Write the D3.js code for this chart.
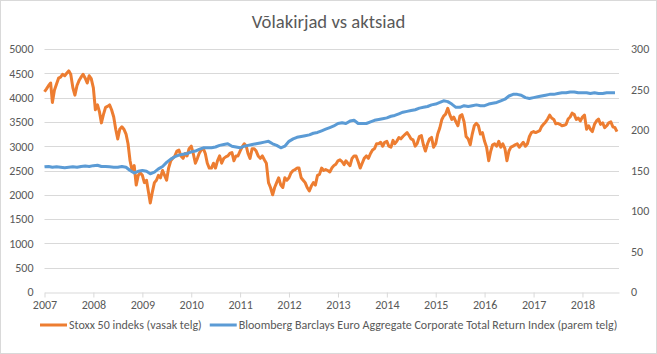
<!DOCTYPE html>
<html>
<head>
<meta charset="utf-8">
<script src="https://cdn.jsdelivr.net/npm/d3@7"></script>
<style>
  body { margin: 0; background: #fff; }
  svg text { font-family: Carlito, Calibri, Lato, sans-serif; fill: #595959; }
</style>
</head>
<body>
<div id="chart-area"></div>
<script>
// Stoxx 50, two readings per month (1st and 16th), Jan 2007 - Sep 2018
const stoxx2007 = [4120, 4180, 4250, 4300, 3900, 4150, 4280, 4400, 4420, 4480, 4450, 4500, 4550, 4480, 4200, 4050, 4250, 4350, 4420, 4480, 4400, 4300, 4450, 4390];
const stoxx2008 = [4200, 3750, 3850, 3700, 3480, 3650, 3800, 3820, 3850, 3750, 3600, 3350, 3150, 3350, 3400, 3350, 3250, 3050, 2700, 2500, 2600, 2200, 2400, 2450];
const stoxx2009 = [2400, 2250, 2300, 2050, 1830, 2050, 2250, 2300, 2400, 2350, 2500, 2400, 2300, 2550, 2700, 2750, 2800, 2900, 2920, 2800, 2750, 2850, 2800, 2950];
const stoxx2010 = [3000, 2850, 2650, 2750, 2850, 2920, 2950, 2850, 2650, 2550, 2550, 2650, 2550, 2700, 2800, 2650, 2750, 2780, 2800, 2850, 2870, 2700, 2800, 2800];
const stoxx2011 = [2900, 2980, 3050, 3000, 2850, 2750, 2950, 2950, 2900, 2800, 2750, 2800, 2720, 2650, 2250, 2150, 2000, 2150, 2250, 2350, 2200, 2150, 2350, 2300];
const stoxx2012 = [2350, 2450, 2500, 2520, 2550, 2550, 2350, 2300, 2250, 2150, 2080, 2180, 2250, 2200, 2400, 2420, 2550, 2500, 2520, 2500, 2470, 2550, 2600, 2630];
const stoxx2013 = [2700, 2720, 2680, 2620, 2700, 2650, 2600, 2750, 2800, 2800, 2680, 2550, 2650, 2750, 2800, 2750, 2850, 2920, 2950, 3050, 3050, 3080, 3000, 3080];
const stoxx2014 = [3100, 3000, 2980, 3120, 3050, 3100, 3180, 3150, 3200, 3240, 3280, 3220, 3150, 3130, 3000, 3060, 3200, 3220, 3030, 2900, 3050, 3150, 3180, 2980];
const stoxx2015 = [3050, 3250, 3380, 3550, 3620, 3660, 3780, 3650, 3550, 3600, 3500, 3420, 3620, 3650, 3500, 3200, 3150, 3030, 3250, 3420, 3470, 3420, 3250, 3280];
const stoxx2016 = [3100, 2980, 2700, 2900, 3030, 3050, 3000, 3100, 2980, 3050, 2950, 2700, 2900, 2980, 3000, 3030, 3050, 2980, 3030, 3080, 3000, 3050, 3200, 3280];
const stoxx2017 = [3300, 3280, 3300, 3320, 3400, 3450, 3500, 3560, 3640, 3580, 3550, 3460, 3470, 3450, 3420, 3430, 3450, 3560, 3600, 3680, 3650, 3550, 3580, 3520];
const stoxx2018 = [3600, 3640, 3350, 3420, 3350, 3300, 3450, 3520, 3560, 3450, 3480, 3380, 3420, 3480, 3500, 3400, 3380, 3300];

// Bloomberg Barclays Euro Aggregate Corporate TR index, monthly, Jan 2007 - Sep 2018
const bond2007 = [154.5, 155, 154, 154.5, 154, 153.5, 154, 154.5, 154, 155, 155.5, 155];
const bond2008 = [156, 156.5, 155, 155, 154.5, 154, 154, 155, 154, 150, 147, 149];
const bond2009 = [150, 149, 146, 148, 152, 155, 160, 164, 167, 169, 170, 171];
const bond2010 = [173, 174, 176, 178, 178, 178, 179, 181, 182, 183, 180, 179];
const bond2011 = [178, 180, 181, 182, 183, 184, 185, 186, 183, 181, 178, 180];
const bond2012 = [186, 189, 191, 192, 193, 194, 196, 197, 199, 201, 203, 205];
const bond2013 = [208, 209, 208, 211, 212, 208, 208, 208, 210, 212, 213, 214];
const bond2014 = [215, 217, 218, 220, 222, 223, 224, 225, 227, 228, 229, 231];
const bond2015 = [232, 234, 236, 235, 232, 228, 228, 230, 229, 230, 231, 230];
const bond2016 = [230, 232, 233, 234, 236, 238, 242, 244, 244, 243, 240, 239];
const bond2017 = [240, 241, 242, 243, 244, 244, 245, 246, 246, 247, 247, 246];
const bond2018 = [246, 246, 245, 246, 245, 245, 246, 246, 246];

const years = ["2007", "2008", "2009", "2010", "2011", "2012", "2013", "2014", "2015", "2016", "2017", "2018"];
const leftTicks = [0, 500, 1000, 1500, 2000, 2500, 3000, 3500, 4000, 4500, 5000];
const rightTicks = [0, 50, 100, 150, 200, 250, 300];
const titleText = "Võlakirjad vs aktsiad";
const stoxxName = "Stoxx 50 indeks (vasak telg)";
const bondName = "Bloomberg Barclays Euro Aggregate Corporate Total Return Index (parem telg)";

const stoxxValues = [].concat(stoxx2007, stoxx2008, stoxx2009, stoxx2010, stoxx2011, stoxx2012,
  stoxx2013, stoxx2014, stoxx2015, stoxx2016, stoxx2017, stoxx2018);
const bondValues = [].concat(bond2007, bond2008, bond2009, bond2010, bond2011, bond2012,
  bond2013, bond2014, bond2015, bond2016, bond2017, bond2018);

const stoxxData = stoxxValues.map((v, i) => ({ date: new Date(2007, Math.floor(i / 2), i % 2 ? 16 : 1), value: v }));
const bondData = bondValues.map((v, i) => ({ date: new Date(2007, i, 1), value: v }));

const W = 657, H = 354;
let margin = { top: 49, right: 38, bottom: 62, left: 44.5 },
  width = W - margin.left - margin.right,
  height = H - margin.top - margin.bottom;

const orange = "#ed7d31", blue = "#5b9bd5", grid = "#d9d9d9";

let svg = d3.select("#chart-area")
  .append("svg")
  .attr("width", W)
  .attr("height", H);

svg.append("rect")
  .attr("x", 0.5).attr("y", 0.5)
  .attr("width", W - 1).attr("height", H - 1)
  .attr("fill", "#fff").attr("stroke", grid);

svg.append("text")
  .attr("x", W / 2)
  .attr("y", 28)
  .attr("text-anchor", "middle")
  .style("font-size", "18.7px")
  .style("font-weight", 300)
  .text(titleText);

let g = svg.append("g")
  .attr("transform", "translate(" + margin.left + "," + margin.top + ")");

// SCALES
let x = d3.scaleTime()
  .domain([new Date(2007, 0, 1), new Date(2018, 9, 1)])
  .range([0, width]);
let yLeft = d3.scaleLinear().domain([0, 5000]).range([height, 0]);
let yRight = d3.scaleLinear().domain([0, 300]).range([height, 0]);

// gridlines
g.selectAll(".grid")
  .data(leftTicks.slice(1))
  .enter()
  .append("line")
  .attr("class", "grid")
  .attr("x1", 0).attr("x2", width)
  .attr("y1", d => Math.round(yLeft(d)) + 0.5)
  .attr("y2", d => Math.round(yLeft(d)) + 0.5)
  .attr("stroke", grid);

// AXES
let xAxis = d3.axisBottom(x)
  .tickValues(years.map(y => new Date(+y, 0, 1)))
  .tickFormat(d3.timeFormat("%Y"))
  .tickSize(5)
  .tickSizeOuter(0);
let leftAxis = d3.axisLeft(yLeft).tickValues(leftTicks).tickFormat(d3.format("d")).tickSize(0).tickPadding(11);
let rightAxis = d3.axisRight(yRight).tickValues(rightTicks).tickFormat(d3.format("d")).tickSize(0).tickPadding(12);

let xg = g.append("g")
  .attr("transform", "translate(0," + (Math.round(height) + 0.5) + ")")
  .call(xAxis);
xg.select(".domain").attr("stroke", grid);
xg.selectAll(".tick line").attr("stroke", grid);

let lg = g.append("g").call(leftAxis);
let rg = g.append("g").attr("transform", "translate(" + width + ",0)").call(rightAxis);
[lg, rg].forEach(a => a.select(".domain").remove());

svg.selectAll(".tick text")
  .style("font-size", "12px")
  .attr("fill", "#595959");

// LINES
let stoxxLine = d3.line().x(d => x(d.date)).y(d => yLeft(d.value));
let bondLine = d3.line().x(d => x(d.date)).y(d => yRight(d.value));

g.append("path")
  .datum(stoxxData)
  .attr("fill", "none")
  .attr("stroke", orange)
  .attr("stroke-width", 3)
  .attr("stroke-linejoin", "round")
  .attr("d", stoxxLine);

g.append("path")
  .datum(bondData)
  .attr("fill", "none")
  .attr("stroke", blue)
  .attr("stroke-width", 3)
  .attr("stroke-linejoin", "round")
  .attr("d", bondLine);

// LEGEND
const legendY = 325;
let legend = svg.append("g");
let items = [{ name: stoxxName, color: orange }, { name: bondName, color: blue }];
let lx = 40;
items.forEach(function(it) {
  legend.append("line")
    .attr("x1", lx).attr("x2", lx + 27)
    .attr("y1", legendY).attr("y2", legendY)
    .attr("stroke", it.color).attr("stroke-width", 3);
  let t = legend.append("text")
    .attr("x", lx + 29)
    .attr("y", legendY + 4)
    .style("font-size", "12px")
    .text(it.name);
  lx += 29 + t.node().getComputedTextLength() + 8;
});
</script>
</body>
</html>
